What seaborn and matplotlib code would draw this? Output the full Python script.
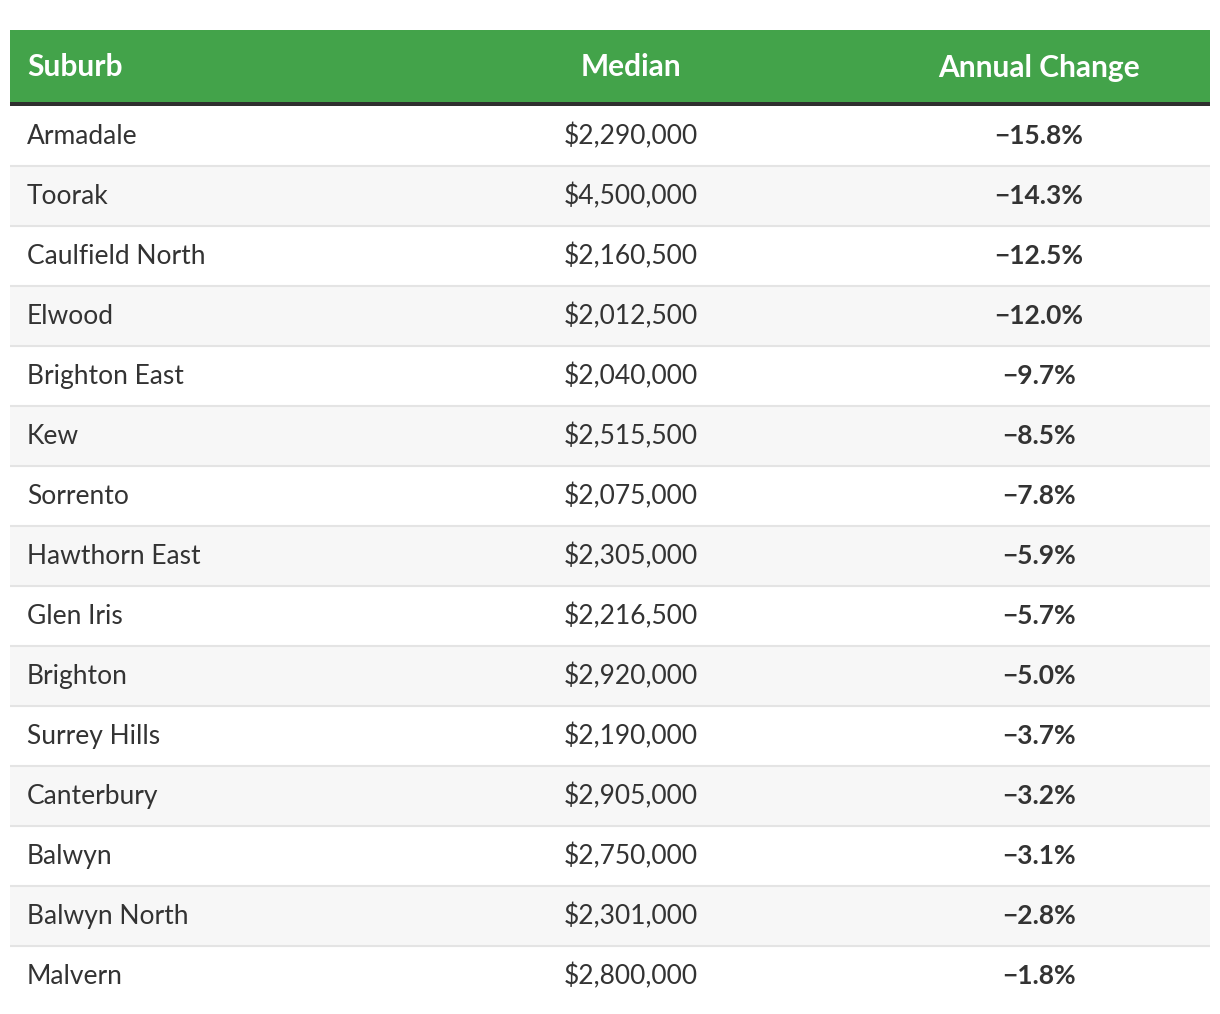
import matplotlib
matplotlib.use("Agg")
import matplotlib.pyplot as plt
import seaborn as sns

# table data
suburbs = ["Armadale", "Toorak", "Caulfield North", "Elwood", "Brighton East", "Kew",
           "Sorrento", "Hawthorn East", "Glen Iris", "Brighton", "Surrey Hills",
           "Canterbury", "Balwyn", "Balwyn North", "Malvern"]
medians = [2290000, 4500000, 2160500, 2012500, 2040000, 2515500, 2075000, 2305000,
           2216500, 2920000, 2190000, 2905000, 2750000, 2301000, 2800000]
annual_change = [-15.8, -14.3, -12.5, -12.0, -9.7, -8.5, -7.8, -5.9, -5.7, -5.0,
                 -3.7, -3.2, -3.1, -2.8, -1.8]
headers = ["Suburb", "Median", "Annual Change"]

sns.set_theme(style="white")
plt.rcParams['font.family'] = ['Lato', 'DejaVu Sans']

W, H = 1220, 1014
fig = plt.figure(figsize=(W / 100, H / 100), dpi=100)
ax = fig.add_axes([0, 0, 1, 1])
ax.set_xlim(0, W)
ax.set_ylim(H, 0)
ax.axis("off")

left, right = 10, 1210
head_top, head_bot = 30, 102
rule = 3.5
row_h = 60
first = head_bot + rule
green = "#43a34a"
txt = "#333333"

# header
ax.fill_between([left, right], head_top, head_bot, color=green, lw=0)
ax.fill_between([left, right], head_bot, head_bot + rule, color="#2f2f2f", lw=0)
hy = (head_top + head_bot) / 2 + 1.5
ax.text(27, hy, headers[0], color="white", fontsize=21.5, fontweight="bold", va="center", ha="left")
ax.text(631, hy, headers[1], color="white", fontsize=21.5, fontweight="bold", va="center", ha="center")
ax.text(1039, hy, headers[2], color="white", fontsize=21.5, fontweight="bold", va="center", ha="center")

for i, (s, m, c) in enumerate(zip(suburbs, medians, annual_change)):
    y0 = first + i * row_h
    bg = "white" if i % 2 == 0 else "#f7f7f7"
    ax.fill_between([left, right], y0, y0 + row_h, color=bg, lw=0)
    if i > 0:
        ax.plot([left, right], [y0, y0], color="#e4e4e4", lw=1.5, solid_capstyle="butt")
    yc = y0 + row_h / 2 + 1
    ax.text(27, yc, s, color=txt, fontsize=19, va="center", ha="left")
    ax.text(631, yc, "${:,}".format(m), color=txt, fontsize=19, va="center", ha="center")
    ax.text(1039, yc, "\u2212{:.1f}%".format(abs(c)), color=txt, fontsize=19,
            fontweight="bold", va="center", ha="center")

fig.savefig("out.png", dpi=100, facecolor="white")
